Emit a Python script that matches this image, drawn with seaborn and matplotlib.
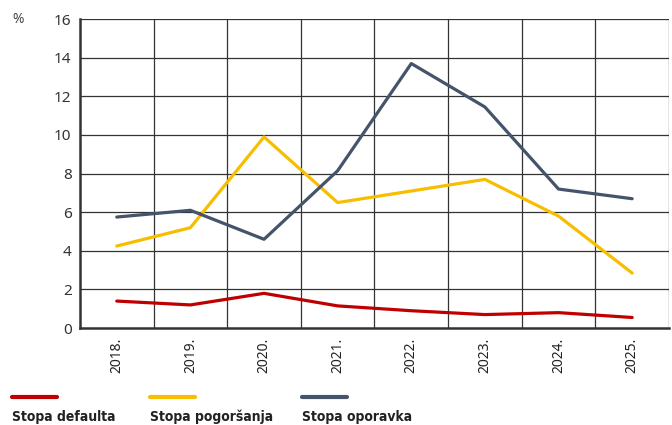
import matplotlib.pyplot as plt
import pandas as pd
import seaborn as sns
from matplotlib.lines import Line2D

years = ['2018.', '2019.', '2020.', '2021.', '2022.', '2023.', '2024.', '2025.']
stopa_defaulta = [1.4, 1.2, 1.8, 1.15, 0.9, 0.7, 0.8, 0.55]
stopa_pogorsanja = [4.25, 5.2, 9.9, 6.5, 7.1, 7.7, 5.8, 2.85]
stopa_oporavka = [5.75, 6.1, 4.6, 8.15, 13.7, 11.45, 7.2, 6.7]

series = ['Stopa defaulta', 'Stopa pogoršanja', 'Stopa oporavka']
colors = ['#C00000', '#F7BE00', '#44546A']

df = pd.DataFrame({'year': years, series[0]: stopa_defaulta,
                   series[1]: stopa_pogorsanja, series[2]: stopa_oporavka})
df['x'] = range(len(years))
long = df.melt(id_vars=['year', 'x'], var_name='serija', value_name='vrijednost')

sns.set_style('white')
plt.rcParams['font.family'] = ['Noto Sans', 'DejaVu Sans']

fig = plt.figure(figsize=(6.72, 4.25), dpi=100)
ax = fig.add_axes([0.119, 0.228, 0.8765, 0.727])

sns.lineplot(data=long, x='x', y='vrijednost', hue='serija', hue_order=series,
             palette=colors, linewidth=2.3, legend=False, ax=ax)

ax.set_xlim(-0.5, len(years) - 0.5)
ax.set_ylim(0, 16)
ax.set_yticks(range(0, 17, 2))
ax.set_xticks(range(len(years)))
ax.set_xticklabels(years, rotation=90, fontsize=10, color='#222222')
ax.tick_params(axis='y', labelsize=11, labelcolor='#333333', color='#333333',
               length=4, width=1, pad=2)
ax.tick_params(axis='x', length=0, pad=7)
ax.set_xlabel('')
ax.set_ylabel('')

for y in range(2, 17, 2):
    ax.axhline(y, color='#333333', linewidth=0.9, zorder=0)
for b in range(len(years)):
    ax.axvline(b + 0.5, color='#333333', linewidth=0.9, zorder=0)

for side in ['left', 'bottom']:
    ax.spines[side].set_linewidth(1.8)
    ax.spines[side].set_color('#333333')
for side in ['top', 'right']:
    ax.spines[side].set_visible(False)

fig.text(0.018, 0.955, '%', fontsize=10, color='#444444', va='center')

# legend below the chart
lx = [0.018, 0.223, 0.449]
for x0, name, c in zip(lx, series, colors):
    fig.add_artist(Line2D([x0, x0 + 0.067], [0.066, 0.066], color=c, linewidth=3,
                          transform=fig.transFigure))
    fig.text(x0, 0.01, name, fontsize=10, fontweight='bold', color='#222222',
             family='DejaVu Sans', fontstretch='condensed', va='baseline')

fig.savefig('out.png', dpi=100)
